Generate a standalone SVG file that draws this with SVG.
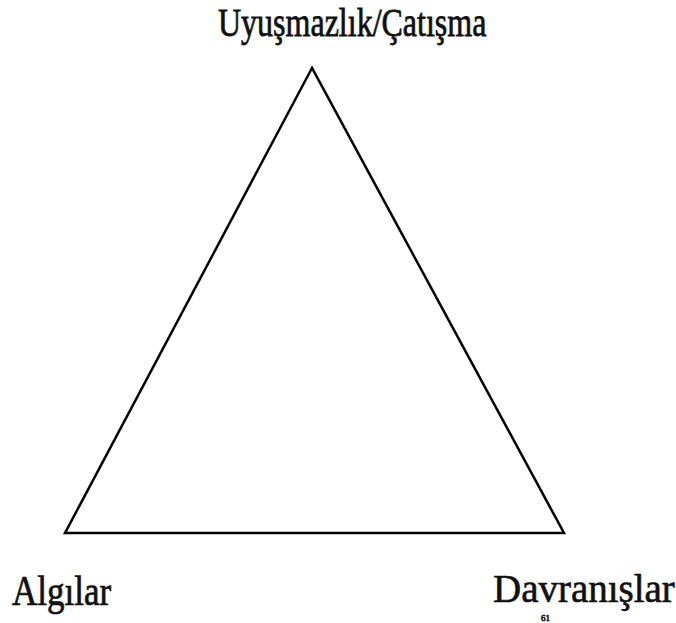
<svg xmlns="http://www.w3.org/2000/svg" width="676" height="623" viewBox="0 0 676 623">
<style>
.lbl{font-family:"Liberation Serif","Times New Roman",serif;fill:#111;stroke:#111;stroke-width:0.6;}
.edge{fill:none;stroke:#000;stroke-width:2.5;stroke-linejoin:miter;}
</style>
<rect width="676" height="623" fill="#fff"/>
<g id="connectors">
<path class="edge" d="M312,68 L65,533 L564,533 Z"/>
</g>
<g id="node-top">
<text class="lbl" font-size="32" transform="translate(218,36) scale(1,1.25)">Uyuşmazlık/Çatışma</text>
</g>
<g id="node-left">
<text class="lbl" font-size="35" transform="translate(12,605) scale(1,1.22)">Algılar</text>
</g>
<g id="node-right">
<text class="lbl" font-size="39" transform="translate(493,602) scale(1,1.05)">Davranışlar</text>
</g>
<g id="footnote">
<text class="lbl" font-size="9" stroke-width="0.2" x="541" y="621">61</text>
</g>
</svg>
